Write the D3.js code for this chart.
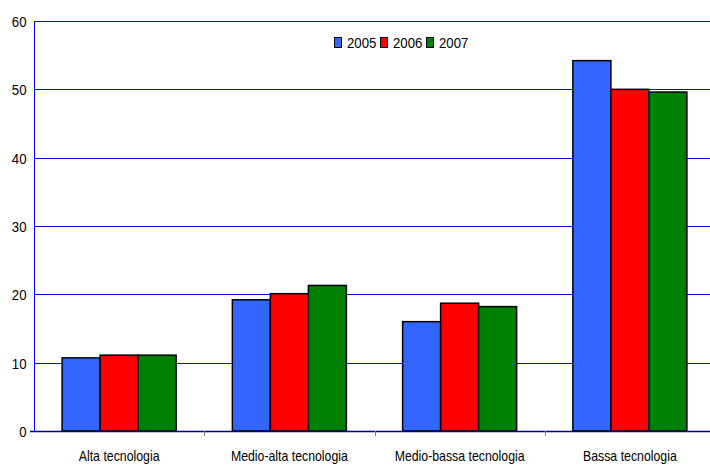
<!DOCTYPE html>
<html>
<head>
<meta charset="utf-8">
<script src="https://cdn.jsdelivr.net/npm/d3@7/dist/d3.min.js"></script>
<style>
  html, body { margin: 0; padding: 0; background: #fff; }
  svg text { font-family: "Liberation Sans", Arial, sans-serif; fill: #000; }
</style>
</head>
<body>
<svg id="chart" width="710" height="465"></svg>
<script>
// Quota per livello tecnologico, anni 2005-2007
const categories = ["Alta tecnologia", "Medio-alta tecnologia", "Medio-bassa tecnologia", "Bassa tecnologia"];
const years = ["2005", "2006", "2007"];
const values2005 = [10.7, 19.2, 16.0, 54.2];
const values2006 = [11.1, 20.1, 18.7, 50.0];
const values2007 = [11.1, 21.3, 18.2, 49.6];
const yTicks = [0, 10, 20, 30, 40, 50, 60];
const colors = ["#3366ff", "#ff0000", "#008000"];

const series = [values2005, values2006, values2007];

const svg = d3.select("#chart");
const margin = { left: 34, right: -5, top: 21, bottom: 34 };
const W = 710, H = 465;
const x0 = margin.left, x1 = W - margin.right;
const y0 = H - margin.bottom, y1 = margin.top;
const narrow = "scale(0.88,1)";

const x = d3.scaleBand().domain(categories).range([x0, x1]).paddingInner(0).paddingOuter(0);
const xs = d3.scaleBand().domain(years).range([0, x.bandwidth()]).paddingInner(0).paddingOuter(0.74);
const y = d3.scaleLinear().domain([0, 60]).range([y0, y1]);

// horizontal gridlines
svg.append("g")
  .selectAll("line")
  .data(yTicks.filter(d => d > 0))
  .join("line")
  .attr("x1", x0).attr("x2", W)
  .attr("y1", d => Math.round(y(d)) + 0.5).attr("y2", d => Math.round(y(d)) + 0.5)
  .attr("stroke", "#0000ff").attr("stroke-width", 1);

// bars
const groups = svg.append("g")
  .selectAll("g")
  .data(categories)
  .join("g")
  .attr("transform", d => `translate(${x(d)},0)`);

groups.selectAll("rect")
  .data((c, i) => years.map((yr, k) => ({ yr, v: series[k][i], k })))
  .join("rect")
  .attr("x", d => xs(d.yr))
  .attr("width", xs.bandwidth())
  .attr("y", d => y(d.v))
  .attr("height", d => y(0) - y(d.v))
  .attr("fill", d => colors[d.k])
  .attr("stroke", "#000")
  .attr("stroke-width", 1.5);

// y axis
const yAxis = d3.axisLeft(y).tickValues(yTicks).tickSize(0).tickFormat(d3.format("d"));
const gy = svg.append("g").attr("transform", `translate(${x0 + 0.5},0)`).call(yAxis);
gy.select(".domain").attr("stroke", "#0000ff").attr("d", `M0,${y1}V${y0}`);
gy.selectAll(".tick text")
  .attr("x", 0).attr("dy", "0.36em")
  .attr("transform", "translate(-8,0) " + narrow)
  .style("font-size", "15px");

// x axis
const xAxis = d3.axisBottom(x).tickSize(0);
const gx = svg.append("g").attr("transform", `translate(0,${y0 + 0.5})`).call(xAxis);
gx.select(".domain").attr("stroke", "#000080").attr("stroke-width", 1.5).attr("d", `M${x0 - 4},0H${W}`);
gx.selectAll(".tick text").attr("y", 29.5).attr("dy", 0)
  .attr("transform", narrow)
  .style("font-size", "14px");

// category separators
svg.append("g")
  .selectAll("line")
  .data(categories.slice(1))
  .join("line")
  .attr("x1", d => Math.round(x(d)) + 0.5).attr("x2", d => Math.round(x(d)) + 0.5)
  .attr("y1", y0).attr("y2", y0 + 5)
  .attr("stroke", "#808080");

// legend
const legend = svg.append("g").attr("transform", "translate(334,43)");
const item = legend.selectAll("g")
  .data(years)
  .join("g")
  .attr("transform", (d, i) => `translate(${i * 46},0)`);
item.append("rect")
  .attr("x", 0.5).attr("y", -5.5).attr("width", 7).attr("height", 10)
  .attr("fill", (d, i) => colors[i]).attr("stroke", "#000").attr("stroke-width", 1);
item.append("text")
  .attr("x", 0).attr("y", 0).attr("dy", "0.36em")
  .attr("transform", "translate(13,0) " + narrow)
  .style("font-size", "15px")
  .text(d => d);
</script>
</body>
</html>
